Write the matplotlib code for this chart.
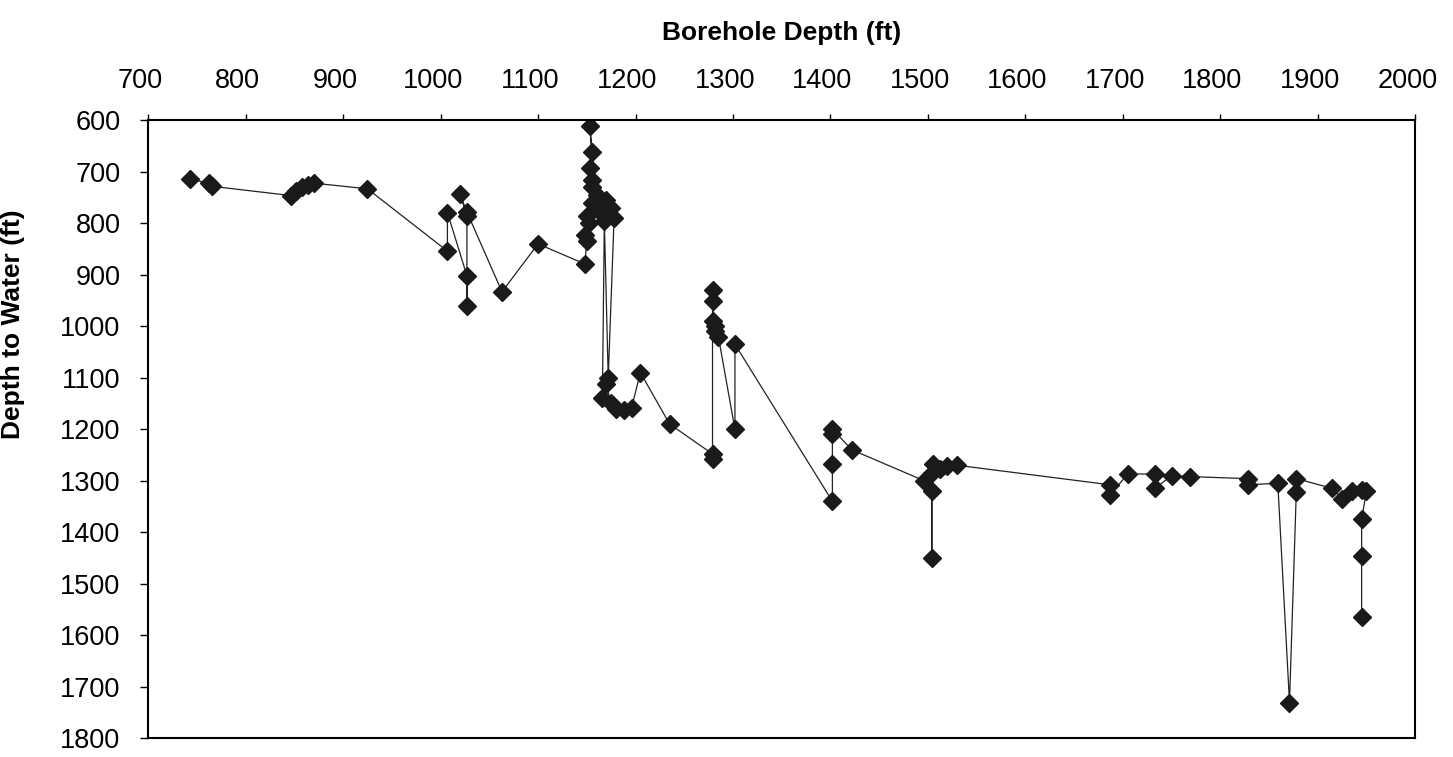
import numpy as np
import matplotlib.pyplot as plt
import matplotlib.transforms as mtransforms

# borehole depth (ft) and depth to water (ft), in plotted order
borehole_depth = [743, 762, 765, 846, 852, 858, 864, 870, 925,
                  1007, 1007, 1027, 1027, 1027, 1020, 1027, 1063, 1100,
                  1148, 1150, 1148, 1152, 1150, 1155, 1155, 1155, 1153, 1155, 1153,
                  1160, 1170, 1175, 1165, 1178, 1172, 1168, 1166, 1170, 1175, 1180,
                  1188, 1196, 1205, 1235,
                  1279, 1279, 1279, 1279, 1280, 1282, 1282, 1285, 1302, 1302,
                  1402, 1402, 1402, 1402, 1422,
                  1496, 1504, 1504, 1504, 1505, 1512, 1520, 1530,
                  1687, 1687, 1705, 1733, 1733, 1750, 1769, 1828, 1828,
                  1859, 1871, 1878, 1878, 1915, 1925, 1935, 1945, 1950,
                  1945, 1945, 1945]
depth_to_water = [714, 722, 728, 746, 738, 730, 725, 722, 733,
                  854, 779, 902, 960, 785, 744, 778, 933, 840,
                  879, 835, 822, 800, 785, 760, 730, 715, 692, 662, 610,
                  745, 755, 770, 780, 790, 1100, 795, 1140, 1113, 1150, 1160,
                  1162, 1158, 1090, 1190,
                  1248, 1258, 930, 950, 990, 1000, 1010, 1020, 1200, 1035,
                  1340, 1267, 1210, 1200, 1240,
                  1300, 1320, 1450, 1285, 1268, 1278, 1272, 1270,
                  1308, 1327, 1287, 1287, 1315, 1290, 1292, 1296, 1308,
                  1305, 1731, 1321, 1296, 1315, 1335, 1320, 1318, 1320,
                  1375, 1446, 1565]

x_ticks = list(range(700, 2001, 100))
y_ticks = list(range(600, 1801, 100))

plt.rcParams['font.family'] = ['Liberation Sans', 'DejaVu Sans']

fig = plt.figure(figsize=(14.53, 7.57), dpi=100)
ax = fig.add_axes([0.102, 0.025, 0.872, 0.816])

ax.plot(borehole_depth, depth_to_water, color='#222222', linewidth=0.9,
        marker='D', markersize=9, markerfacecolor='#1a1a1a',
        markeredgecolor='#1a1a1a')

ax.set_xlim(700, 2000)
ax.set_ylim(1800, 600)
ax.set_xticks(x_ticks)
ax.set_yticks(y_ticks)

ax.xaxis.tick_top()
ax.xaxis.set_label_position('top')
ax.set_xlabel('Borehole Depth (ft)', fontsize=19, fontweight='bold', labelpad=20)
ax.set_ylabel('Depth to Water (ft)', fontsize=19, fontweight='bold')
ax.yaxis.set_label_coords(-0.097, 0.67)

ax.tick_params(axis='x', labelsize=19.5, length=4, width=1, pad=15, direction='out')
ax.tick_params(axis='y', labelsize=19.5, length=6, width=1, pad=14, direction='out')

# the scanned labels sit a little left of their ticks
offset = mtransforms.ScaledTranslation(-0.08, 0, fig.dpi_scale_trans)
for lab in ax.get_xticklabels():
    lab.set_transform(lab.get_transform() + offset)

for sp in ax.spines.values():
    sp.set_linewidth(1.5)
    sp.set_color('black')

fig.savefig('out.png', dpi=100)
